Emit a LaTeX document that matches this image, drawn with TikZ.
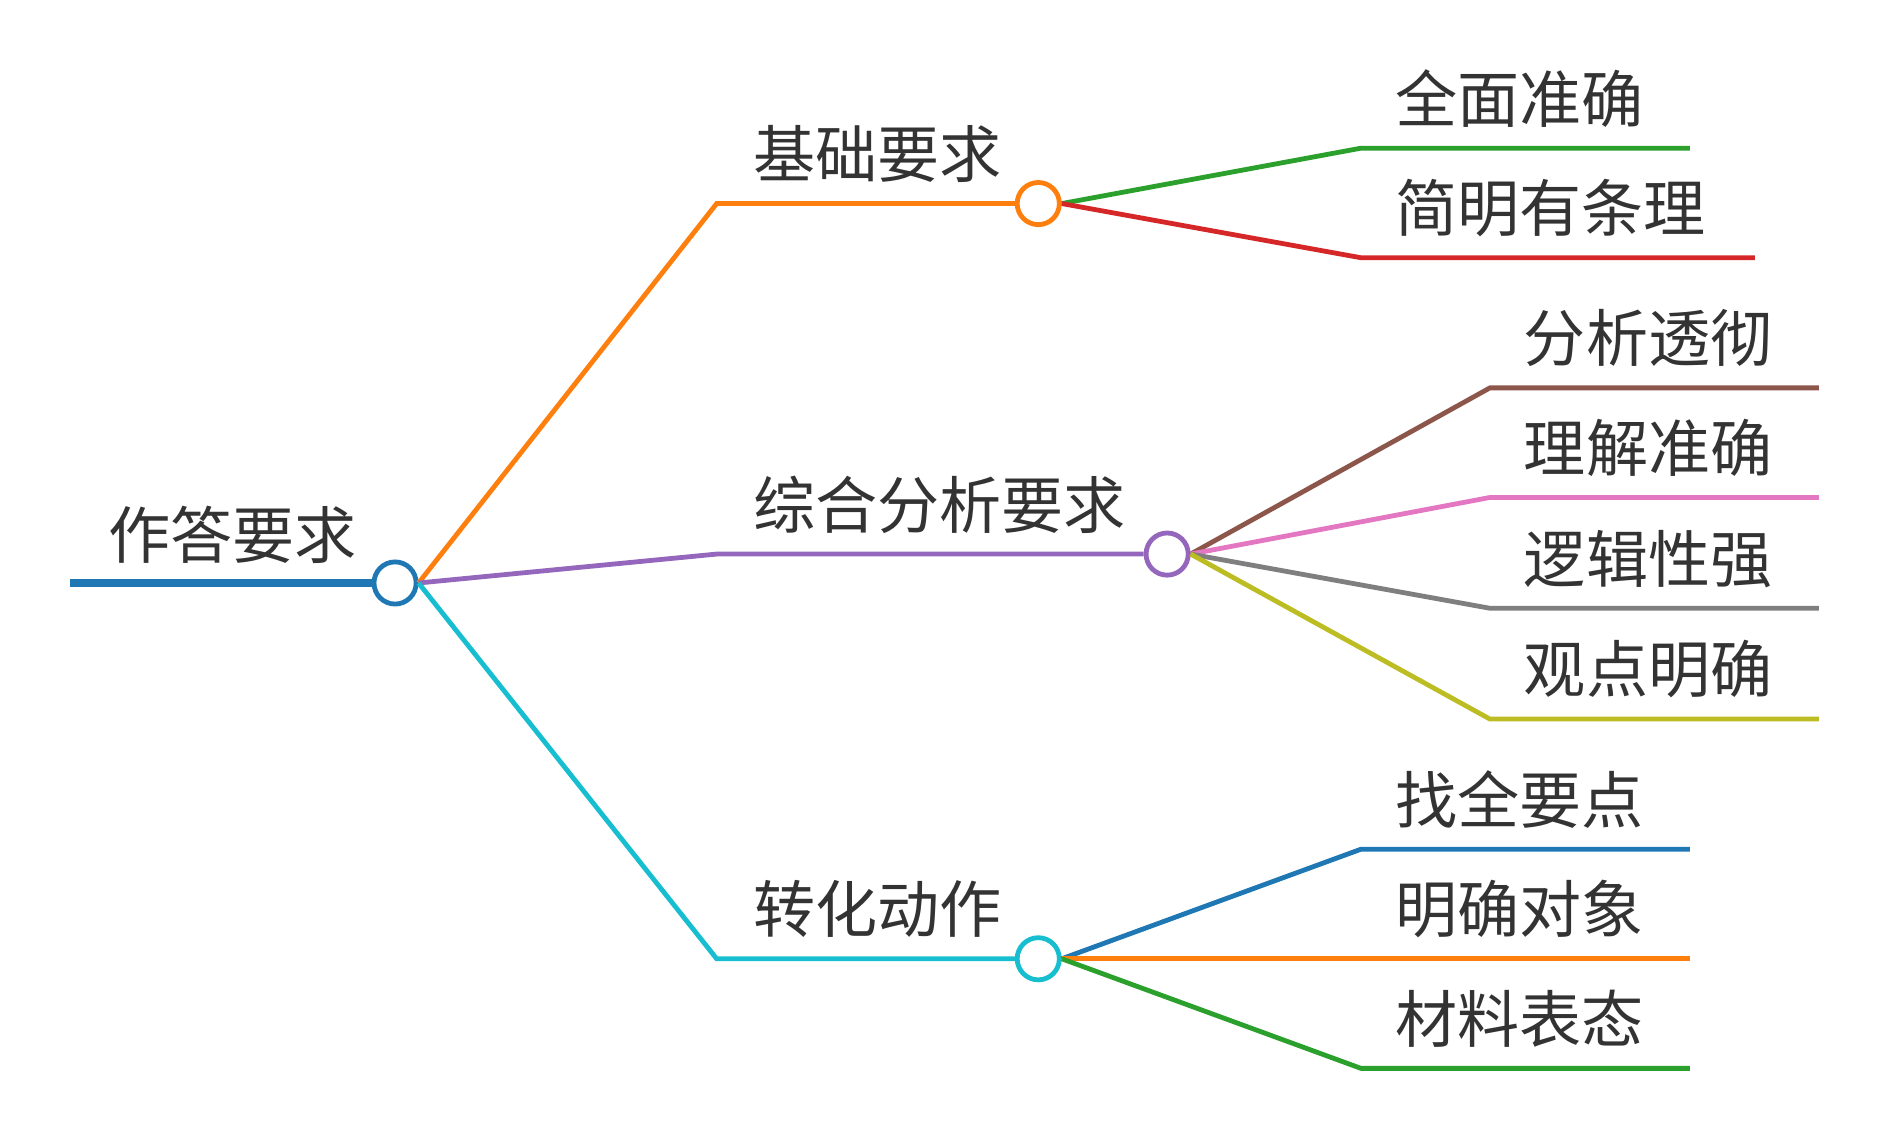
\documentclass[tikz,border=0pt]{standalone}
\usepackage{fontspec}
\newfontfamily\cjk{Noto Sans CJK SC}
\definecolor{cOrange}{HTML}{FF7F0E}
\definecolor{cPurple}{HTML}{9467BD}
\definecolor{cCyan}{HTML}{17BECF}
\definecolor{cBlue}{HTML}{1F77B4}
\definecolor{cGreen}{HTML}{2CA02C}
\definecolor{cRed}{HTML}{D62728}
\definecolor{cBrown}{HTML}{8C564B}
\definecolor{cPink}{HTML}{E377C2}
\definecolor{cGray}{HTML}{7F7F7F}
\definecolor{cOlive}{HTML}{BCBD22}
\definecolor{txt}{HTML}{333333}
\tikzset{
	every node/.style = {font=\cjk\fontsize{44}{50}\selectfont, text=txt},
	hub/.style = {circle, draw, fill=white, line width=3.4pt, minimum size=1.05cm, inner sep=0pt},
	edge/.style = {line width=3.4pt},
	lbl/.style = {anchor=south west, inner sep=0pt}
}
\newcommand{\branch}[4]{% from, to, end, colour
	\draw[edge, #4] (#1) .. controls ($(#1)!0.5!(#2)$ |- #1) and ($(#1)!0.5!(#2)$ |- #2) .. (#2) -- (#3);
}
\usetikzlibrary{calc}
\begin{document}
\begin{tikzpicture}[x=0.03cm, y=-0.03cm]
		\useasboundingbox (0,0) rectangle (1560,943);
		% root
		\coordinate (r0) at (58,484);
		\node[hub, draw=cBlue] (root) at (328,484) {};
		\draw[line width=6pt, cBlue] (r0) -- (root.west);
		\node[lbl] at (90,468) {作答要求};
		% level 1
		\coordinate (a1) at (595,169);
		\coordinate (b1) at (595,460);
		\coordinate (c1) at (595,796);
		\node[hub, draw=cOrange] (a) at (862,169) {};
		\node[hub, draw=cPurple] (b) at (969,460) {};
		\node[hub, draw=cCyan] (c) at (862,796) {};
		\branch{root.east}{a1}{a.west}{cOrange}
		\branch{root.east}{b1}{b.west}{cPurple}
		\branch{root.east}{c1}{c.west}{cCyan}
		\node[lbl] at (625,152) {基础要求};
		\node[lbl] at (625,443) {综合分析要求};
		\node[lbl] at (625,779) {转化动作};
		% level 2 : a
		\coordinate (a2) at (1130,123); \coordinate (a2e) at (1403,123);
		\coordinate (a3) at (1130,214); \coordinate (a3e) at (1457,214);
		\branch{a.east}{a2}{a2e}{cGreen}
		\branch{a.east}{a3}{a3e}{cRed}
		\node[lbl] at (1158,106) {全面准确};
		\node[lbl] at (1158,197) {简明有条理};
		% level 2 : b
		\coordinate (b2) at (1237,322); \coordinate (b2e) at (1510,322);
		\coordinate (b3) at (1237,413); \coordinate (b3e) at (1510,413);
		\coordinate (b4) at (1237,505); \coordinate (b4e) at (1510,505);
		\coordinate (b5) at (1237,597); \coordinate (b5e) at (1510,597);
		\branch{b.east}{b2}{b2e}{cBrown}
		\branch{b.east}{b3}{b3e}{cPink}
		\branch{b.east}{b4}{b4e}{cGray}
		\branch{b.east}{b5}{b5e}{cOlive}
		\node[lbl] at (1265,305) {分析透彻};
		\node[lbl] at (1265,396) {理解准确};
		\node[lbl] at (1265,488) {逻辑性强};
		\node[lbl] at (1265,580) {观点明确};
		% level 2 : c
		\coordinate (c2) at (1130,705); \coordinate (c2e) at (1403,705);
		\coordinate (c3) at (1130,796); \coordinate (c3e) at (1403,796);
		\coordinate (c4) at (1130,887); \coordinate (c4e) at (1403,887);
		\branch{c.east}{c2}{c2e}{cBlue}
		\branch{c.east}{c3}{c3e}{cOrange}
		\branch{c.east}{c4}{c4e}{cGreen}
		\node[lbl] at (1158,688) {找全要点};
		\node[lbl] at (1158,779) {明确对象};
		\node[lbl] at (1158,870) {材料表态};
	\end{tikzpicture}
\end{document}
